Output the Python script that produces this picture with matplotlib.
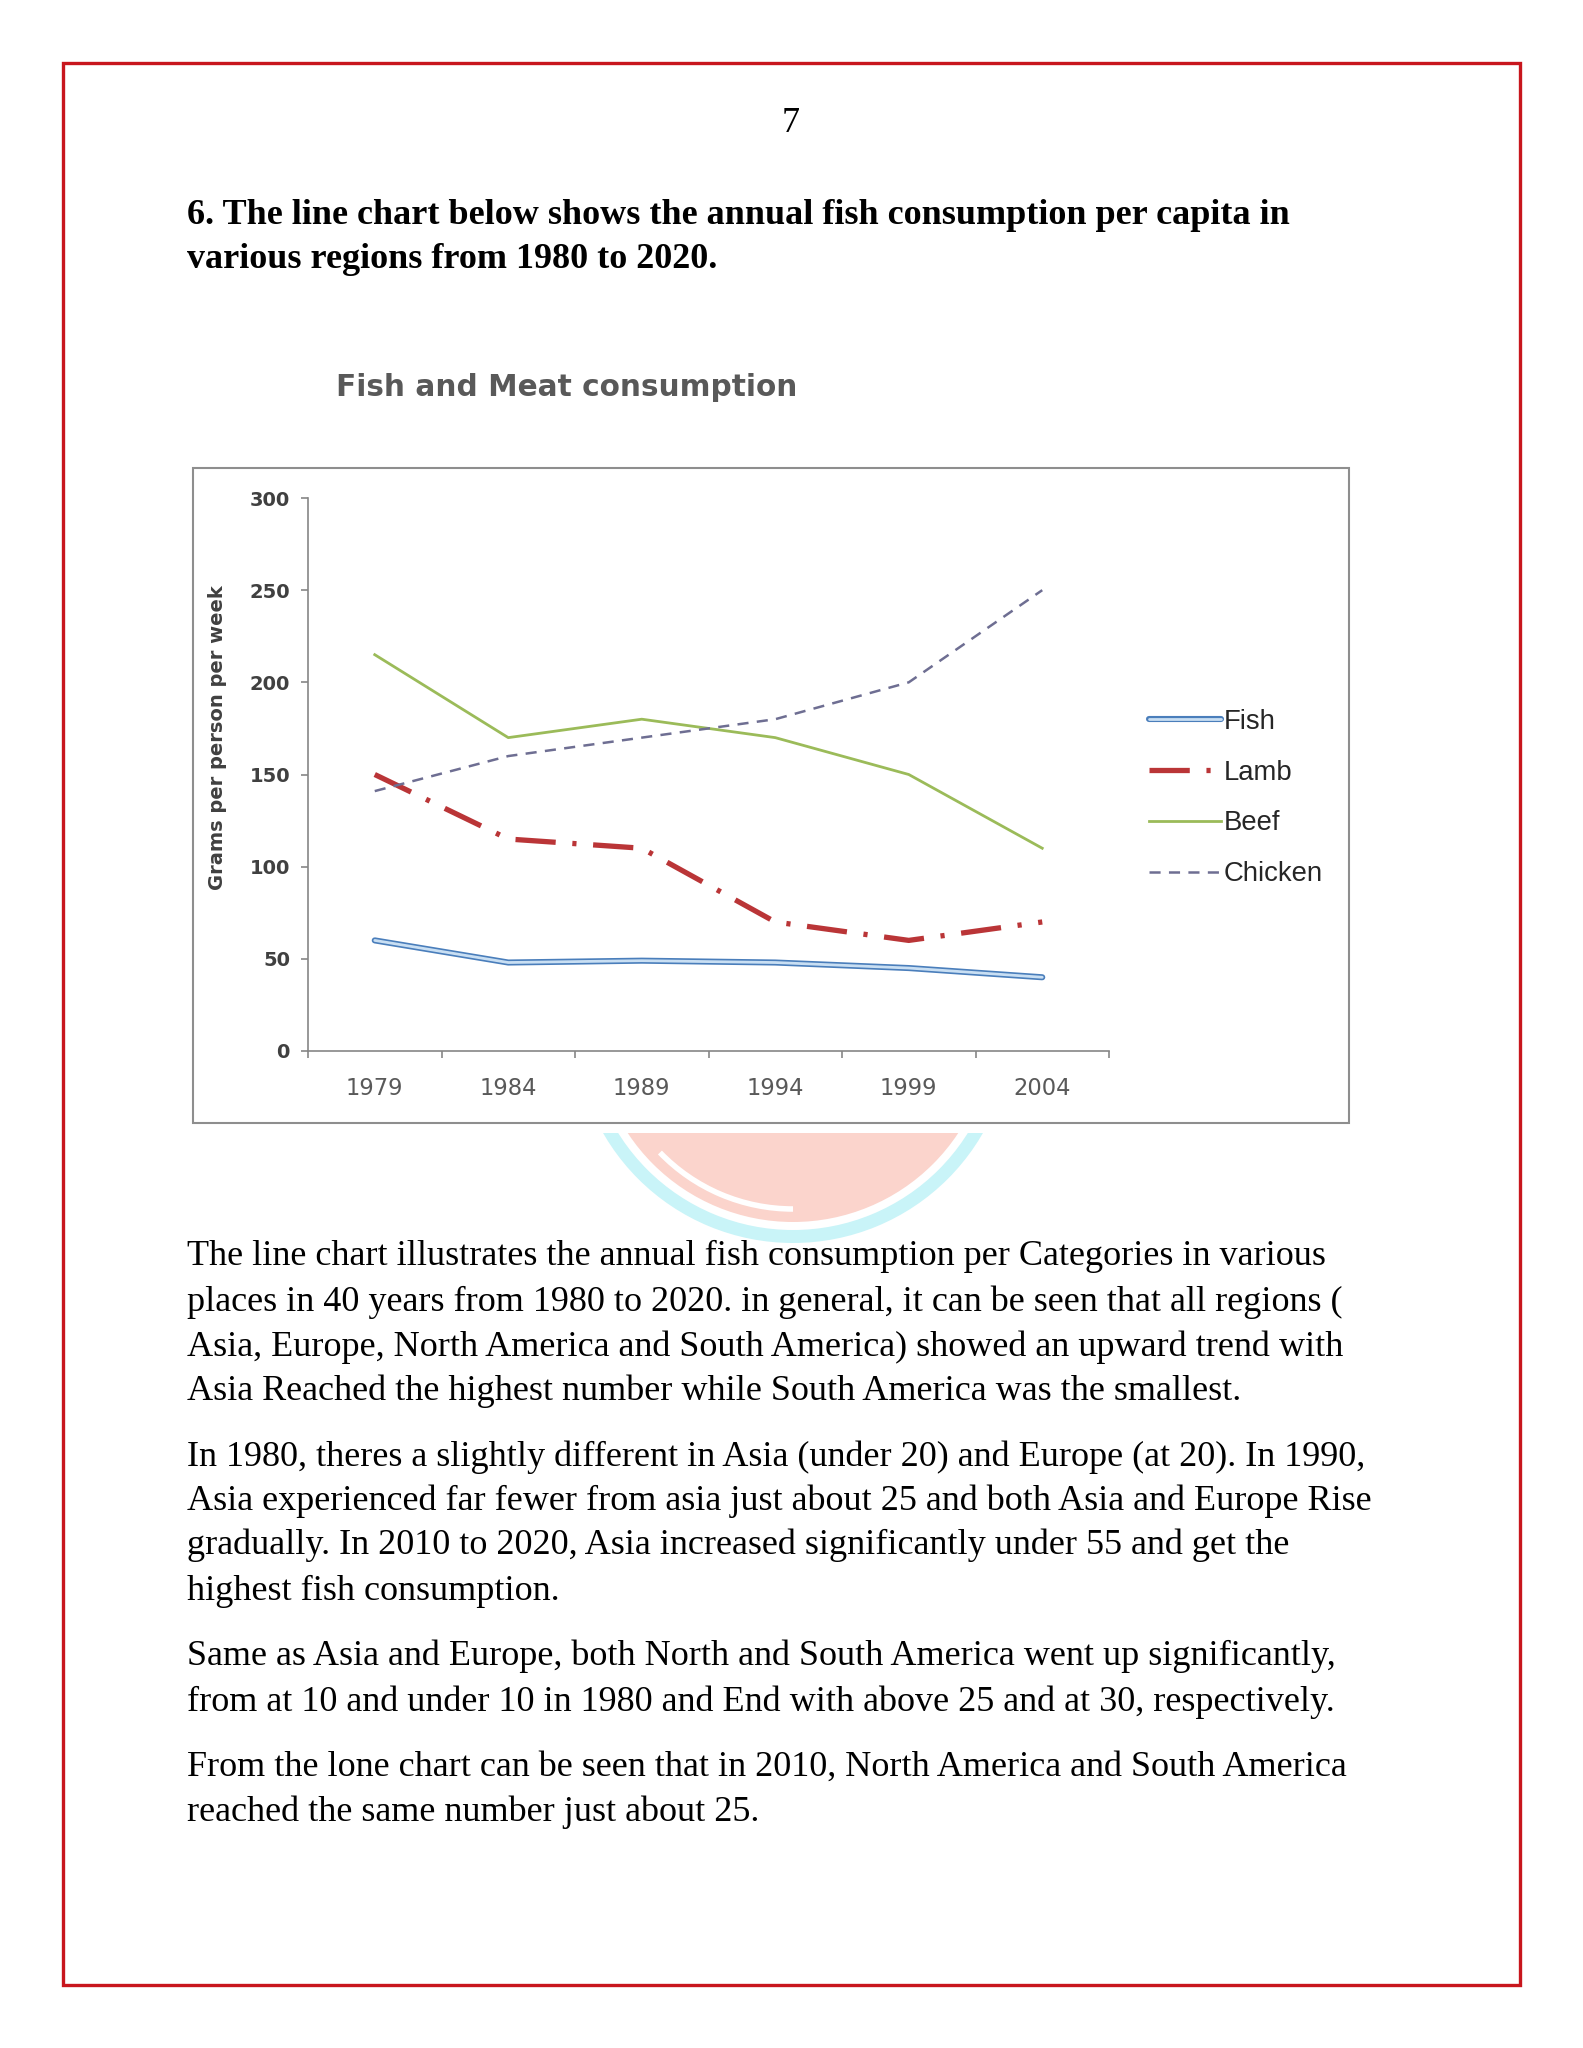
import matplotlib
matplotlib.use('Agg')
import numpy as np
import matplotlib.pyplot as plt
from matplotlib.patches import Rectangle, Wedge, Circle, Arc
from matplotlib.legend_handler import HandlerTuple

# ---------------- data ----------------
years = ['1979', '1984', '1989', '1994', '1999', '2004']
fish = [60, 48, 49, 48, 45, 40]
lamb = [150, 115, 110, 70, 60, 70]
beef = [215, 170, 180, 170, 150, 110]
chicken = [141, 160, 170, 180, 200, 250]
series_names = ['Fish', 'Lamb', 'Beef', 'Chicken']
y_ticks = [0, 50, 100, 150, 200, 250, 300]

chart_title = 'Fish and Meat consumption'
y_label = 'Grams per person per week'
page_number = '7'
heading_lines = [
    '6. The line chart below shows the annual fish consumption per capita in',
    'various regions from 1980 to 2020.',
]
body_lines = [
    'The line chart illustrates the annual fish consumption per Categories in various',
    'places in 40 years from 1980 to 2020. in general, it can be seen that all regions (',
    'Asia, Europe, North America and South America) showed an upward trend with',
    'Asia Reached the highest number while South America was the smallest.',
    'In 1980, theres a slightly different in Asia (under 20) and Europe (at 20). In 1990,',
    'Asia experienced far fewer from asia just about 25 and both Asia and Europe Rise',
    'gradually. In 2010 to 2020, Asia increased significantly under 55 and get the',
    'highest fish consumption.',
    'Same as Asia and Europe, both North and South America went up significantly,',
    'from at 10 and under 10 in 1980 and End with above 25 and at 30, respectively.',
    'From the lone chart can be seen that in 2010, North America and South America',
    'reached the same number just about 25.',
]

# ---------------- layout (pixels) ----------------
W, H = 1583, 2048
plt.rcParams['lines.scale_dashes'] = False
fig = plt.figure(figsize=(W / 100, H / 100), dpi=100)
fig.patch.set_facecolor('white')

bg = fig.add_axes([0, 0, 1, 1], zorder=0)
bg.set_xlim(0, W)
bg.set_ylim(H, 0)
bg.axis('off')

# red page border
bg.add_patch(Rectangle((63, 63), 1520 - 63, 1985 - 63, fill=False,
                       ec='#C8161D', lw=2.4, zorder=5))

# watermark (bottom of a round logo)
clip = Rectangle((0, 1133), W, 200, transform=bg.transData)
cx, cy = 793, 1024
wm = [
    Wedge((cx, cy), 219, 0, 360, width=13, color='#C9F4F8', lw=0, zorder=1),
    Circle((cx, cy), 198, color='#FBD4CC', lw=0, zorder=1),
    Arc((cx, cy), 370, 370, theta1=90, theta2=136, color='white', lw=4, zorder=2),
]
for p in wm:
    bg.add_patch(p)
    p.set_clip_path(clip)

# chart box
bg.add_patch(Rectangle((193, 468), 1349 - 193, 1123 - 468, fc='white',
                       ec='#8E8E8E', lw=1.5, zorder=3))

# page texts
serif = 'Liberation Serif'
bg.text(791, 124, page_number, family=serif, fontsize=26, ha='center',
        va='center', zorder=6)
for y, line in zip([215, 259], heading_lines):
    bg.text(187, y, line, family=serif, weight='bold', fontsize=26,
            va='center', zorder=6)
body_y = [1256, 1302, 1347, 1391, 1457, 1501, 1545, 1591, 1656, 1702, 1767, 1812]
for y, line in zip(body_y, body_lines):
    bg.text(187, y, line, family=serif, fontsize=26, va='center', zorder=6)

# chart title and y label
bg.text(336, 388, chart_title, family='DejaVu Sans', weight='bold',
        fontsize=21.3, color='#595959', va='center', ha='left', zorder=6)
bg.text(218, 738, y_label, family='DejaVu Sans', weight='bold', fontsize=14,
        color='#404040', rotation=90, ha='center', va='center', zorder=6)

# ---------------- chart ----------------
ax = fig.add_axes([308 / W, 1 - 1051 / H, 801 / W, 553 / H], zorder=2)
ax.patch.set_alpha(0)
x = np.arange(len(years))

f_out, = ax.plot(x, fish, color='#4A7EBB', lw=4.4, solid_capstyle='round',
                 solid_joinstyle='round', zorder=3)
f_in, = ax.plot(x, fish, color='#C9DFF3', lw=2.0, solid_capstyle='round',
                solid_joinstyle='round', zorder=4)
l_line, = ax.plot(x, lamb, color='#BA3537', lw=3.8, zorder=3)
l_line.set_dashes([29, 12, 3, 12])
b_line, = ax.plot(x, beef, color='#9BBB59', lw=2.0, zorder=3)
c_line, = ax.plot(x, chicken, color='#6E6E92', lw=1.8, zorder=3)
c_line.set_dashes([8, 6])

ax.set_xlim(-0.5, len(years) - 0.5)
ax.set_ylim(0, 300)
ax.set_xticks(x)
ax.set_xticklabels(years, family='DejaVu Sans')
ax.set_xticks(np.arange(-0.5, len(years), 1), minor=True)
ax.tick_params(axis='x', which='major', length=0, pad=19, labelsize=16.3,
               labelcolor='#595959')
ax.tick_params(axis='x', which='minor', length=5, direction='out',
               color='#868686', width=1.2)
ax.set_yticks(y_ticks)
ax.tick_params(axis='y', length=5, pad=8, labelsize=14, labelcolor='#404040',
               color='#868686', width=1.2)
for t in ax.get_yticklabels():
    t.set_fontweight('bold')
for s in ['top', 'right']:
    ax.spines[s].set_visible(False)
for s in ['left', 'bottom']:
    ax.spines[s].set_color('#868686')
    ax.spines[s].set_linewidth(1.2)

leg = ax.legend([(f_out, f_in), l_line, b_line, c_line], series_names,
                handler_map={tuple: HandlerTuple(ndivide=1, pad=0)},
                loc='upper left', bbox_to_anchor=(1149 / W, 1 - 709 / H),
                bbox_transform=fig.transFigure, frameon=False,
                prop={'family': 'Liberation Sans', 'size': 19.8},
                handlelength=2.62, handletextpad=0.1, labelspacing=0.9,
                borderpad=0, borderaxespad=0)
for t in leg.get_texts():
    t.set_color('#262626')

fig.savefig('out.png', dpi=100, facecolor='white')
